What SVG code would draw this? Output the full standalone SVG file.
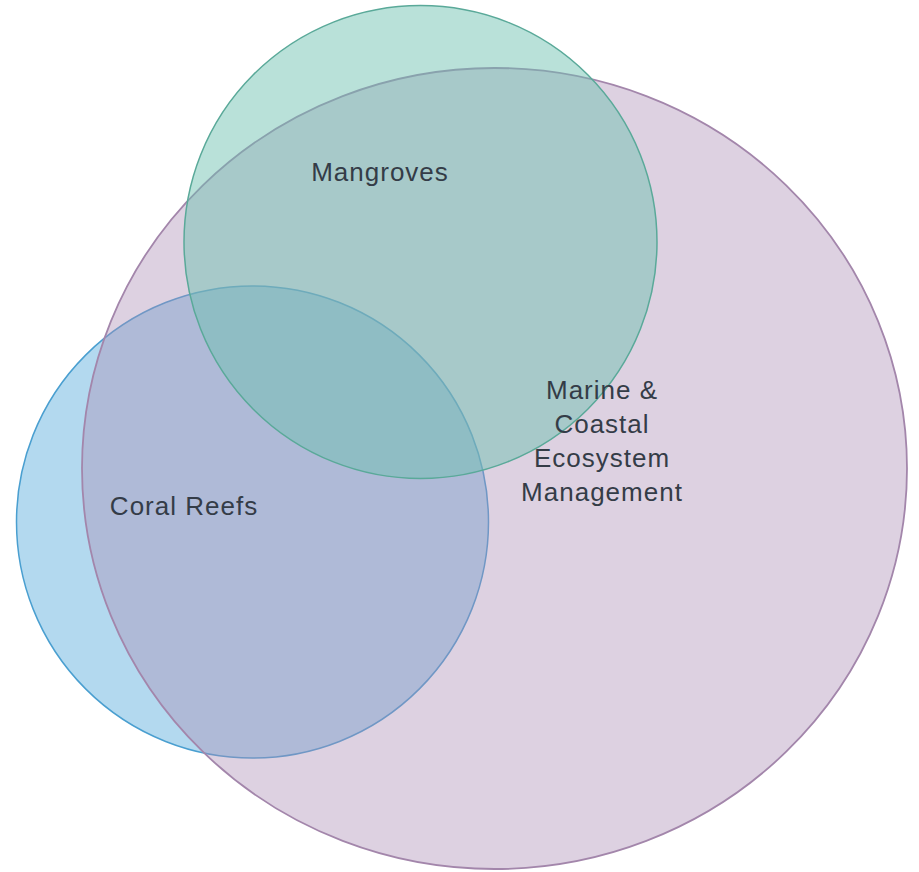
<svg xmlns="http://www.w3.org/2000/svg" width="919" height="872" viewBox="0 0 919 872">
<style>
.lbl{font-family:"Liberation Sans",Arial,sans-serif;font-size:26px;letter-spacing:1px;fill:#343c47;text-anchor:middle}
</style>
<rect width="919" height="872" fill="#ffffff"/>
<g id="coral-reefs">
<circle cx="252.5" cy="522" r="236" fill="#b3d9ef" stroke="#4a9fd0" stroke-width="1.5"/>
</g>
<g id="marine-coastal">
<ellipse cx="494.5" cy="468.5" rx="412.5" ry="400.5" fill="#aa8cb4" fill-opacity="0.4" stroke="#a386ab" stroke-width="1.8"/>
</g>
<g id="mangroves">
<circle cx="420.5" cy="242" r="236.5" fill="#6dc0b0" fill-opacity="0.48" stroke="#5aa999" stroke-width="1.5"/>
</g>
<g id="labels">
<text class="lbl" x="380" y="181">Mangroves</text>
<text class="lbl" x="184" y="515">Coral Reefs</text>
<text class="lbl" x="602" y="399">Marine &amp;</text>
<text class="lbl" x="602" y="433">Coastal</text>
<text class="lbl" x="602" y="467">Ecosystem</text>
<text class="lbl" x="602" y="501">Management</text>
</g>
<g id="connectors"/>
</svg>
